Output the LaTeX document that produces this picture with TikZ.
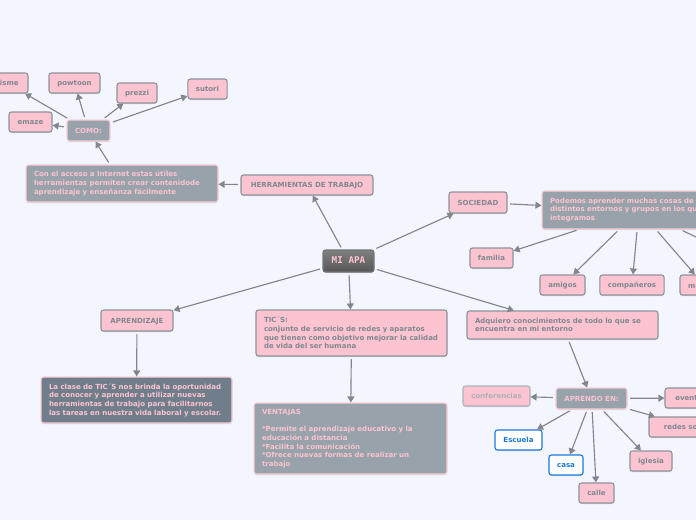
\documentclass[tikz,border=0pt]{standalone}
\usepackage{fontspec}
\setmainfont{DejaVu Sans}
\newfontfamily\monof{DejaVu Sans Mono}
\usetikzlibrary{arrows.meta,shadows,calc}
\definecolor{bgc}{HTML}{F3F6FF}
\definecolor{pinkc}{HTML}{FCC4D1}
\definecolor{greyc}{HTML}{98A2AA}
\definecolor{darkc}{HTML}{707E8B}
\definecolor{edgec}{HTML}{8D939B}
\definecolor{txtc}{HTML}{7F8790}
\definecolor{linec}{HTML}{83868C}
\definecolor{bluec}{HTML}{1B78DC}
\tikzset{
  x=1pt,y=-1pt,
  base/.style={rounded corners=2.5pt,line width=1.1pt,font=\fontsize{7.02}{8.7}\selectfont\bfseries,
    inner xsep=8pt,inner ysep=0pt,drop shadow={opacity=.28,shadow xshift=0pt,shadow yshift=-1pt}},
  pinkbox/.style={base,fill=pinkc,draw=edgec,text=txtc},
  greybox/.style={base,fill=greyc,draw=pinkc!85!white,text=pinkc},
  darkbox/.style={greybox,fill=darkc},
  fadebox/.style={base,fill=pinkc,draw=edgec!70!white,text=txtc!65!white},
  bluebox/.style={base,fill=white,draw=bluec,text=bluec},
  rootbox/.style={base,draw=edgec!80!black,top color=black!50,bottom color=black!66,text=pinkc,
    font=\monof\fontsize{9.3}{10}\selectfont\bfseries},
  conn/.style={draw=linec,line width=1.15pt,shorten <=2.5pt,-{Triangle[length=6pt,width=7pt]}},
}
% name, style, left, top, right, bottom, text
\newcommand{\bx}[7]{\node[#2,minimum width={(#5)-(#3)},minimum height={(#6)-(#4)},
  align=center] (#1) at ({((#3)+(#5))/2},{((#4)+(#6))/2}) {\raisebox{0pt}[5pt][0pt]{#7}};}
\newcommand{\bt}[7]{\pgfmathsetmacro{\boxw}{(#5)-(#3)-16}\node[#2,minimum width={(#5)-(#3)},minimum height={(#6)-(#4)},
  text width=\boxw pt,align=left] (#1) at ({((#3)+(#5))/2},{((#4)+(#6))/2}) {\hyphenpenalty=10000 #7};}
\begin{document}
\begin{tikzpicture}
\useasboundingbox (0,0) rectangle (696,520);
\clip (0,0) rectangle (696,520);
\fill[bgc] (0,0) rectangle (696,520);
\bx{visme}{pinkbox}{-14}{73}{28}{93}{visme}
\bx{powtoon}{pinkbox}{49}{73}{100}{93}{powtoon}
\bx{prezzi}{pinkbox}{117}{83}{157}{103}{prezzi}
\bx{sutori}{pinkbox}{188}{79}{227}{99}{sutori}
\bx{emaze}{pinkbox}{9}{112}{52}{132}{emaze}
\bx{como}{greybox}{67}{120}{110}{141}{COMO:}
\bt{acceso}{greybox}{26}{165}{218}{202}{Con el acceso a Internet estas útiles\\herramientas permiten crear contenidode\\aprendizaje y enseñanza fácilmente}
\bx{herr}{pinkbox}{241}{175}{373}{195}{HERRAMIENTAS DE TRABAJO}
\bx{root}{rootbox}{323}{250}{374}{272}{MI APA}
\bt{tics}{pinkbox}{256}{310}{447}{356}{TIC´S:\\conjunto de servicio de redes y aparatos\\que tienen como objetivo mejorar la calidad\\de vida del ser humana}
\bx{soc}{pinkbox}{449}{192}{507}{213}{SOCIEDAD}
\bt{podemos}{greybox}{542}{191}{736}{229}{Podemos aprender muchas cosas de los\\distintos entornos y grupos en los que\\integramos}
\bx{familia}{pinkbox}{470}{248}{513}{268}{familia}
\bx{amigos}{pinkbox}{540}{275}{585}{295}{amigos}
\bx{comp}{pinkbox}{600}{275}{664}{295}{compañeros}
\bx{maes}{pinkbox}{680}{275}{728}{295}{\rule{0pt}{1ex}}
\node[font=\fontsize{7.02}{8.7}\selectfont\bfseries,text=txtc,inner sep=0pt,anchor=base west] (mlabel) at (688,288) {m};
\bt{adq}{pinkbox}{467}{311}{658}{339}{Adquiero conocimientos de todo lo que se\\encuentra en mi entorno}
\bx{apr}{greybox}{556}{388}{627}{409}{APRENDO EN:}
\bx{conf}{fadebox}{463}{386}{530}{406}{conferencias}
\bx{even}{pinkbox}{665}{388}{717}{408}{eventos}
\bx{redes}{pinkbox}{649}{417}{735}{437}{redes sociales}
\bx{esc}{bluebox}{495}{430}{542}{450}{Escuela}
\bx{casa}{bluebox}{549}{455}{583}{475}{casa}
\bx{igl}{pinkbox}{630}{451}{672}{471}{iglesia}
\bx{calle}{pinkbox}{579}{483}{614}{503}{calle}
\bx{apz}{pinkbox}{101}{310}{173}{331}{APRENDIZAJE}
\bt{clase}{darkbox}{41}{377}{232}{423}{La clase de TIC´S nos brinda la oportunidad\\de conocer y aprender a utilizar nuevas\\herramientas de trabajo para facilitarnos\\las tareas en nuestra vida laboral y escolar.}
\bt{vent}{greybox}{254}{403}{447}{474}{VENTAJAS\\\mbox{}\\{*}Permite el aprendizaje educativo y la\\educación a distancia\\{*}Facilita la comunicación\\{*}Ofrece nuevas formas de realizar un\\trabajo}
\coordinate (offr) at (770,272);
\foreach \a/\b in {root/herr,root/soc,root/tics,root/adq,root/apz,herr/acceso,acceso/como,
  como/visme,como/powtoon,como/prezzi,como/sutori,como/emaze,soc/podemos,podemos/familia,
  podemos/amigos,podemos/comp,podemos/maes,podemos/offr,adq/apr,apr/conf,apr/even,apr/redes,
  apr/esc,apr/casa,apr/igl,apr/calle,apz/clase,tics/vent}
  \draw[conn] (\a) -- (\b);
\end{tikzpicture}
\end{document}
